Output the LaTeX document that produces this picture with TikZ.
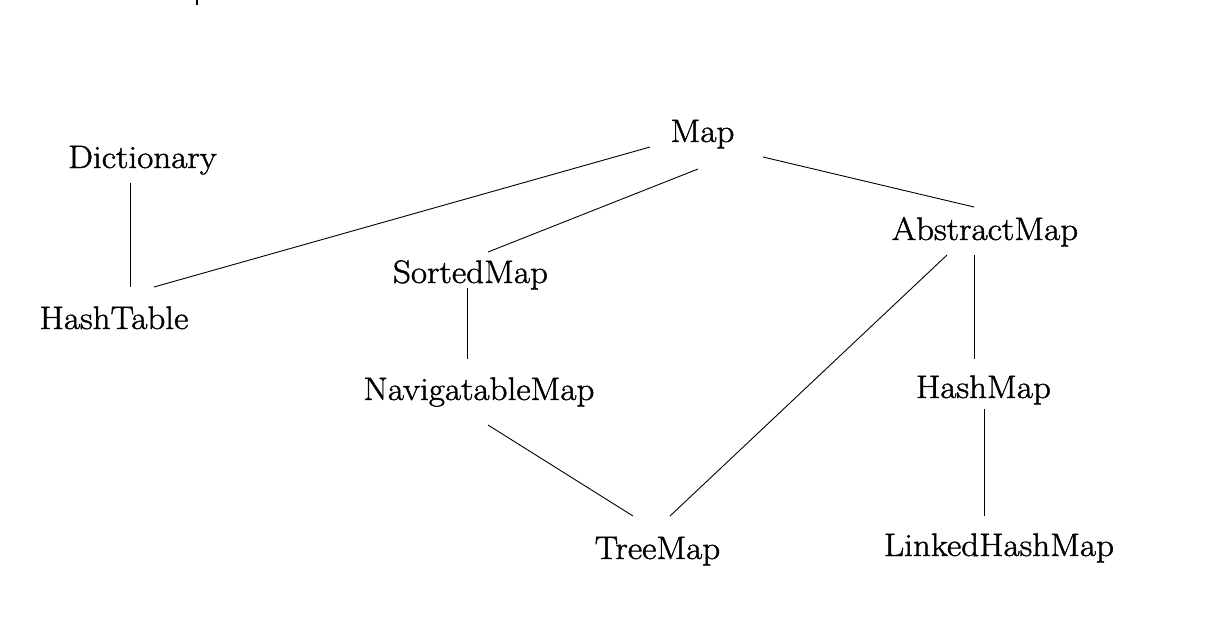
\documentclass[tikz,border=0pt]{standalone}
\usepackage{fontspec}
\setmainfont{Latin Modern Roman}[FakeStretch=1.08,FakeBold=1.3]
\begin{document}
\begin{tikzpicture}[x=1pt,y=-1pt,
  cls/.style={anchor=base,inner sep=0pt,font=\fontsize{32.5}{38}\selectfont},
  link/.style={line width=0.9pt,black}]
\useasboundingbox (0,0) rectangle (1208,638);
% class names
\node[cls] (dict) at (142.5,168) {Dictionary};
\node[cls] (map) at (702.5,142) {Map};
\node[cls] (htab) at (114,329) {HashTable};
\node[cls] (smap) at (470.5,283) {SortedMap};
\node[cls] (amap) at (985,240) {AbstractMap};
\node[cls] (nmap) at (479,400) {NavigatableMap};
\node[cls] (hmap) at (983.5,398) {HashMap};
\node[cls] (tmap) at (657.5,559) {TreeMap};
\node[cls] (lhmap) at (999,556) {LinkedHashMap};
% connector end points
\coordinate (dict-s) at (130,183);
\coordinate (htab-n1) at (130,287);
\coordinate (htab-n2) at (154,287);
\coordinate (map-w) at (650,147);
\coordinate (map-s) at (698,169);
\coordinate (map-e) at (763,157);
\coordinate (smap-n) at (488,252);
\coordinate (smap-s) at (467,288);
\coordinate (nmap-n) at (467,359);
\coordinate (nmap-s) at (488,425);
\coordinate (amap-n) at (974,207);
\coordinate (amap-sw) at (947,255);
\coordinate (amap-s) at (974,255);
\coordinate (hmap-n) at (974,359);
\coordinate (hmap-s) at (984,409);
\coordinate (lhmap-n) at (984,516);
\coordinate (tmap-nw) at (633,516);
\coordinate (tmap-ne) at (670,516);
\coordinate (tick-a) at (196.8,0);
\coordinate (tick-b) at (196.8,5);
% connectors
\draw[link] (dict-s) -- (htab-n1);
\draw[link] (map-w) -- (htab-n2);
\draw[link] (map-s) -- (smap-n);
\draw[link] (map-e) -- (amap-n);
\draw[link] (smap-s) -- (nmap-n);
\draw[link] (nmap-s) -- (tmap-nw);
\draw[link] (amap-sw) -- (tmap-ne);
\draw[link] (amap-s) -- (hmap-n);
\draw[link] (hmap-s) -- (lhmap-n);
\draw[line width=1.6pt] (tick-a) -- (tick-b);
\end{tikzpicture}
\end{document}
